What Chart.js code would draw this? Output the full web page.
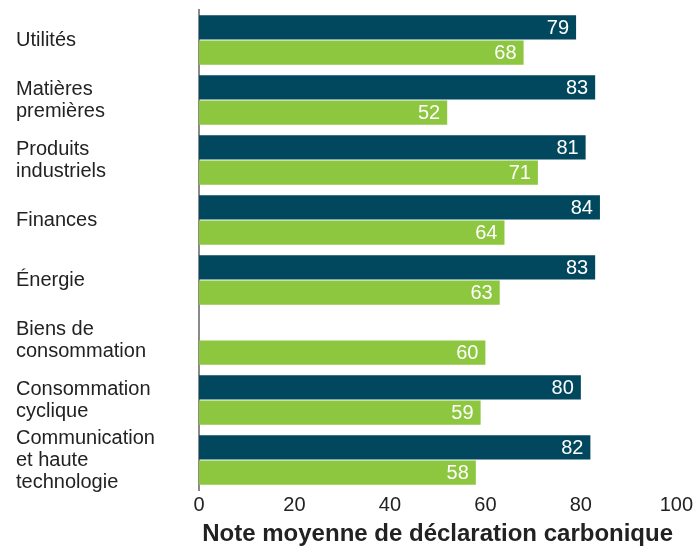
<!DOCTYPE html>
<html>
<head>
<meta charset="utf-8">
<script src="https://cdn.jsdelivr.net/npm/chart.js@4"></script>
<style>
  body { margin: 0; background: #fff; }
  #wrap { width: 696px; height: 546px; }
</style>
</head>
<body>
<div id="wrap"><canvas id="score-chart"></canvas></div>
<script>
const sectors = [
    'Utilités',
    ['Matières', 'premières'],
    ['Produits', 'industriels'],
    'Finances',
    'Énergie',
    ['Biens de', 'consommation'],
    ['Consommation', 'cyclique'],
    ['Communication', 'et haute', 'technologie']
];

const seriesDark = [79, 83, 81, 84, 83, null, 80, 82];
const seriesGreen = [68, 52, 71, 64, 63, 60, 59, 58];

const xTicks = [0, 20, 40, 60, 80, 100];

const fontFamily = '"Liberation Sans", Arial, Helvetica, sans-serif';

// white value written just inside the end of each bar
const barValues = {
    id: 'barValues',
    afterDatasetsDraw(chart) {
        const ctx = chart.ctx;
        ctx.save();
        ctx.fillStyle = '#ffffff';
        ctx.font = '20px ' + fontFamily;
        ctx.textAlign = 'right';
        ctx.textBaseline = 'middle';
        chart.data.datasets.forEach((ds, i) => {
            chart.getDatasetMeta(i).data.forEach((bar, j) => {
                const v = ds.data[j];
                if (v === null || v === undefined) return;
                ctx.fillText(String(v), bar.x - 7, bar.y + 1);
            });
        });
        ctx.restore();
    }
};

new Chart(document.getElementById('score-chart'), {
    type: 'bar',
    data: {
        labels: sectors,
        datasets: [{
            label: 'Série 1',
            data: seriesDark,
            backgroundColor: '#01475e',
            barPercentage: 0.97,
            categoryPercentage: 0.84
        }, {
            label: 'Série 2',
            data: seriesGreen,
            backgroundColor: '#8dc63f',
            barPercentage: 0.97,
            categoryPercentage: 0.84
        }]
    },
    options: {
        indexAxis: 'y',
        responsive: true,
        maintainAspectRatio: false,
        animation: false,
        layout: {
            padding: { top: 10, left: 16, right: 19, bottom: 0 }
        },
        plugins: {
            legend: { display: false },
            tooltip: { enabled: false }
        },
        scales: {
            x: {
                min: 0,
                max: 100,
                afterBuildTicks(scale) {
                    scale.ticks = xTicks.map(v => ({ value: v }));
                },
                afterFit(scale) {
                    scale.height = 56;
                },
                grid: { display: false, drawTicks: false },
                border: { display: false },
                ticks: {
                    color: '#222',
                    padding: 3,
                    font: { family: fontFamily, size: 20 }
                },
                title: {
                    display: true,
                    text: 'Note moyenne de déclaration carbonique',
                    color: '#222',
                    padding: { top: 0, bottom: 0 },
                    font: { family: fontFamily, size: 24, weight: 'bold', lineHeight: 1.0 }
                }
            },
            y: {
                afterFit(scale) {
                    scale.width = 183;
                    scale.paddingTop = 0;
                    scale.paddingBottom = 0;
                },
                grid: { display: false },
                border: { display: true, color: '#8a8a8a', width: 2 },
                ticks: {
                    autoSkip: false,
                    crossAlign: 'far',
                    color: '#222',
                    font: { family: fontFamily, size: 20, lineHeight: 1.1 }
                }
            }
        }
    },
    plugins: [barValues]
});
</script>
</body>
</html>
